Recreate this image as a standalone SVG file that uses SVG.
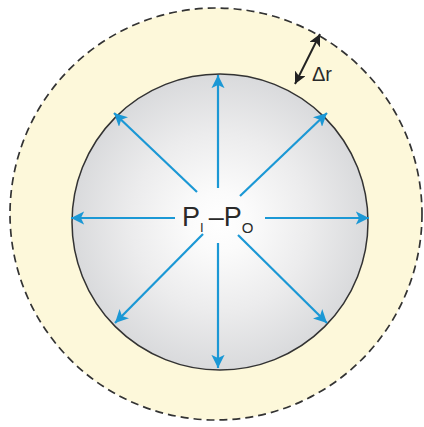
<svg xmlns="http://www.w3.org/2000/svg" width="424" height="427" viewBox="0 0 424 427">
<style>
.blue{stroke:#1b98d5;stroke-width:2.2;fill:none;marker-end:url(#bh)}
.lbl{font-family:"Liberation Sans",Arial,sans-serif;fill:#2a2a2a}
</style>
<defs>
<radialGradient id="g" cx="0.5" cy="0.5" r="0.5">
<stop offset="0" stop-color="#ffffff"/>
<stop offset="0.2" stop-color="#fbfbfb"/>
<stop offset="0.6" stop-color="#ececed"/>
<stop offset="1" stop-color="#d9dadc"/>
</radialGradient>
<marker id="bh" viewBox="0 0 10 10" refX="10" refY="5" markerWidth="6" markerHeight="6" orient="auto-start-reverse" markerUnits="strokeWidth">
<path d="M0,0 L10,5 L0,10 L2.5,5 z" fill="#1b98d5"/>
</marker>
<marker id="kh" viewBox="0 0 10 10" refX="10" refY="5" markerWidth="6" markerHeight="6" orient="auto-start-reverse" markerUnits="strokeWidth">
<path d="M0,0 L10,5 L0,10 L2.5,5 z" fill="#222"/>
</marker>
</defs>
<g id="outer"><circle cx="216" cy="214" r="206" fill="#fdf8da" stroke="#333" stroke-width="1.7" stroke-dasharray="8,5"/></g>
<g id="inner"><circle cx="220" cy="222" r="148" fill="url(#g)" stroke="#333" stroke-width="1.5"/></g>
<g id="connectors">
<line class="blue" x1="218" y1="188" x2="218" y2="75"/>
<line class="blue" x1="218" y1="243" x2="218" y2="368"/>
<line class="blue" x1="175" y1="218" x2="71" y2="218"/>
<line class="blue" x1="265" y1="218" x2="369" y2="218"/>
<line class="blue" x1="197" y1="192" x2="114" y2="113"/>
<line class="blue" x1="240" y1="196" x2="327" y2="113"/>
<line class="blue" x1="203" y1="234" x2="115" y2="323"/>
<line class="blue" x1="238" y1="235" x2="327" y2="323"/>
<line x1="320" y1="34" x2="295" y2="84" stroke="#222" stroke-width="2" marker-start="url(#kh)" marker-end="url(#kh)"/>
</g>
<g id="label-p">
<text class="lbl" x="182" y="226" font-size="27">P<tspan font-size="13" dy="6">I</tspan><tspan dy="-6" dx="5">–P</tspan><tspan font-size="15" dy="7">O</tspan></text>
</g>
<g id="label-dr">
<text class="lbl" x="312" y="81" font-size="20">Δr</text>
</g>
</svg>
